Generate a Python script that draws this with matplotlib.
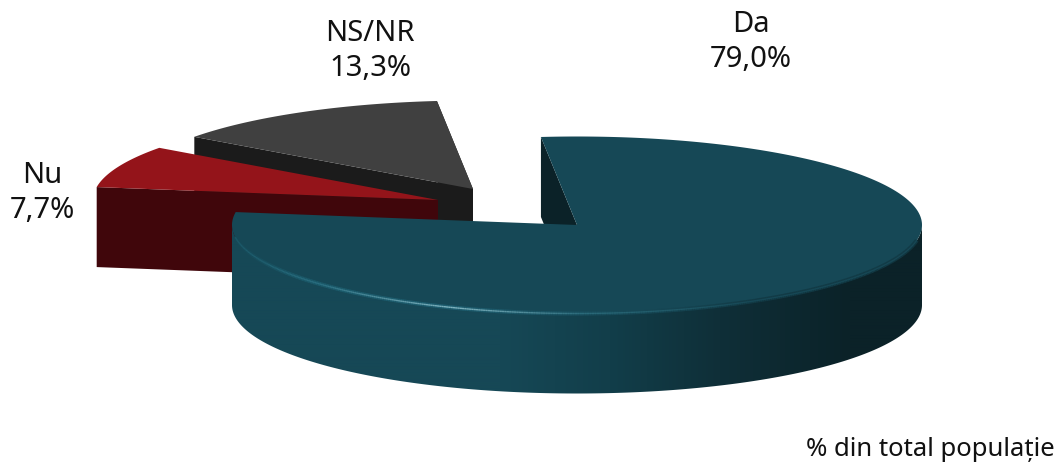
import matplotlib
matplotlib.use('Agg')
import matplotlib.pyplot as plt
import numpy as np
from matplotlib.collections import LineCollection
from matplotlib.colors import to_rgb
from matplotlib.patches import Polygon

names = ['Da', 'Nu', 'NS/NR']
values = [79.0, 7.7, 13.3]
value_labels = ['79,0%', '7,7%', '13,3%']
note = '% din total populație'

start = 96.0
rx, ry, depth = 345.0, 88.5, 80.0
centers = [(577, 225), (438, 200), (473, 189)]
top_colors = ['#164856', '#94141A', '#404040']
side_colors = ['#0B2228', '#40060B', '#1B1B1B']
label_pos = [(751, 42), (42, 193), (370, 51)]
font = 'Noto Sans'


def pt(c, t, dy=0.0):
    t = np.radians(t)
    return np.column_stack([c[0] + rx * np.cos(t), c[1] - ry * np.sin(t) + dy])


def top_face(c, a, b):
    arc = pt(c, np.linspace(a, b, 300))
    return np.vstack([[c], arc])


def cut_face(c, a):
    p = pt(c, np.array([a]))[0]
    return [c, p, (p[0], p[1] + depth), (c[0], c[1] + depth)]


def mix(cols, stops, x):
    rgb = np.array([to_rgb(k) for k in cols])
    return np.column_stack([np.interp(x, stops, rgb[:, i]) for i in range(3)])


# slice angles, clockwise from the start angle
sweeps = np.array(values) / sum(values) * 360
ends = start - np.cumsum(sweeps)
starts = ends + sweeps

fig = plt.figure(figsize=(10.6, 4.63), dpi=100)
ax = fig.add_axes([0, 0, 1, 1])

# grey slice, then red, then the big one in front
ax.fill(*zip(*cut_face(centers[2], starts[2])), color=side_colors[2], lw=0)
ax.fill(*zip(*cut_face(centers[2], ends[2] + 360)), color=side_colors[2], lw=0)
ax.fill(*top_face(centers[2], starts[2], ends[2]).T, color=top_colors[2], lw=0)

ax.fill(*zip(*cut_face(centers[1], starts[1])), color=side_colors[1], lw=0)
ax.fill(*top_face(centers[1], starts[1], ends[1]).T, color=top_colors[1], lw=0)

c = centers[0]
ax.fill(*zip(*cut_face(c, starts[0])), color=side_colors[0], lw=0)

# outer wall: horizontal gradient clipped to the wall outline
ts = np.linspace(-180, 0, 500)
outline = np.vstack([pt(c, ts), pt(c, ts[::-1], depth)])
xs = np.arange(232, 923)
grad = mix(['#164856', '#164856', '#123E4A', '#0F2F38', '#0B2228', '#0B2228'],
           [232, 500, 610, 720, 850, 922], xs)[np.newaxis, :, :]
im = ax.imshow(grad, extent=(232, 923, 400, 200), aspect='auto', interpolation='bilinear', zorder=1)
clip = Polygon(outline, transform=ax.transData, fc='none', ec='none')
ax.add_patch(clip)
im.set_clip_path(clip)

ax.fill(*top_face(c, starts[0], ends[0]).T, color=top_colors[0], lw=0, zorder=2)

# lit rim on the front edge, soft band first then the thin bright line
rim = pt(c, np.linspace(-172, -10, 400))
segs = np.stack([rim[:-1], rim[1:]], axis=1)
soft = mix(['#164856', '#1B5A6A', '#1F6072', '#164856', '#123A45', '#123A45'],
           [232, 300, 450, 640, 760, 922], rim[:-1, 0])
ax.add_collection(LineCollection(segs, colors=soft, linewidths=3.0, zorder=3))
rim_cols = mix(['#1B5A6A', '#2A6E80', '#7FB4C0', '#2A6A7A', '#164856', '#164856'],
               [232, 320, 450, 580, 750, 922], rim[:-1, 0])
ax.add_collection(LineCollection(segs, colors=rim_cols, linewidths=1.0, zorder=3))

for name, val, pos in zip(names, value_labels, label_pos):
    ax.text(pos[0], pos[1], name + '\n' + val, ha='center', va='center', fontsize=21,
            family=font, color='#111111', linespacing=1.3)
ax.text(1055, 449, note, ha='right', va='center', fontsize=18.5, family=font, color='#111111')

ax.set_xlim(0, 1060)
ax.set_ylim(463, 0)
ax.axis('off')

fig.savefig('out.png', dpi=100)
